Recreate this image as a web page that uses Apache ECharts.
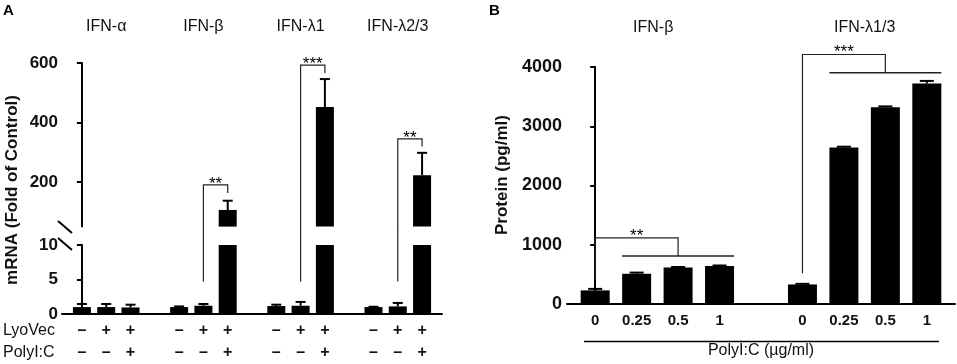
<!DOCTYPE html>
<html>
<head>
<meta charset="utf-8">
<script src="https://cdn.jsdelivr.net/npm/echarts@6/dist/echarts.min.js"></script>
<style>
  html, body { margin: 0; padding: 0; background: #fff; }
  #chart { width: 957px; height: 364px; }
</style>
</head>
<body>
<div id="chart"></div>
<script>
var myChart = echarts.init(document.getElementById('chart'))

// panel A: mRNA fold of control, 3 conditions per gene
var groupsA = ['IFN-α', 'IFN-β', 'IFN-λ1', 'IFN-λ2/3']
var lyoVec = ['–', '+', '+']
var polyIC = ['–', '–', '+']
var meanA = [[1.0, 1.0, 0.95], [1.0, 1.2, 106], [1.15, 1.2, 452], [1.0, 1.1, 223]]
var sdA = [[0.45, 0.45, 0.4], [0.1, 0.25, 31], [0.2, 0.55, 94], [0.05, 0.5, 75]]
var upperTicksA = [200, 400, 600]
// significance brackets A: [left bar, right bar], top, right leg end, left leg end
var sigPairsA = [[5, 6], [9, 10], [13, 14]]
var sigTopA = [190, 593, 345]
var sigRightA = [163, 566, 319]
var sigLeftA = [4.7, 4.7, 4.7]
var starsA = ['**', '***', '**']

// panel B: protein pg/ml vs PolyI:C dose
var groupsB = ['IFN-β', 'IFN-λ1/3']
var doses = ['0', '0.25', '0.5', '1']
var meanB = [[230, 510, 615, 640], [330, 2640, 3320, 3720]]
var sdB = [[25, 20, 10, 10], [10, 15, 15, 45]]
// brackets B: control bar, treated span, top, control leg end, treated line level
var sigCtrlB = [0, 5]
var sigSpanB = [[1, 3], [6, 8]]
var sigTopB = [1117, 4211]
var sigCtrlEndB = [421, 518]
var sigLineB = [810, 3903]
var starsB = ['**', '***']

var FONT = '"Liberation Sans", Arial, sans-serif'
var INK = '#111'

var barsA = [], errA = [], posA = []
meanA.forEach(function (g, gi) {
    g.forEach(function (v, i) {
        barsA.push([gi * 4 + i, v])
        errA.push([gi * 4 + i, v, sdA[gi][i]])
        posA.push(gi * 4 + i)
    })
})
var barsB = [], errB = [], posB = []
meanB.forEach(function (g, gi) {
    g.forEach(function (v, i) {
        barsB.push([gi * 5 + i, v])
        errB.push([gi * 5 + i, v, sdB[gi][i]])
        posB.push(gi * 5 + i)
    })
})

function errRender(lo, hi, capW) {
    return function (params, api) {
        var m = api.value(1), s = api.value(2)
        if (m < lo || m + s > hi) return
        var a = api.coord([api.value(0), m])
        var b = api.coord([api.value(0), m + s])
        var st = {stroke: '#000', lineWidth: 2}
        return {
            type: 'group',
            children: [
                {type: 'line', shape: {x1: a[0], y1: a[1], x2: b[0], y2: b[1]}, style: st},
                {type: 'line', shape: {x1: b[0] - capW / 2, y1: b[1], x2: b[0] + capW / 2, y2: b[1]}, style: st}
            ]
        }
    }
}

var lineSt = {stroke: '#222', lineWidth: 1.2, fill: null}
var starFont = '17px ' + FONT

var option = {
    backgroundColor: '#fff',
    animation: false,
    textStyle: {fontFamily: FONT},
    grid: [
        {left: 62, top: 63, width: 380, height: 163.6},
        {left: 62, top: 245, width: 380, height: 69},
        {left: 567, top: 67, width: 388, height: 247}
    ],
    xAxis: [
        {gridIndex: 0, type: 'value', min: -0.82, max: 14.82, show: false},
        {gridIndex: 0, type: 'value', position: 'top', min: -0.82, max: 14.82,
            axisLine: {show: false}, axisTick: {show: false}, splitLine: {show: false},
            axisLabel: {customValues: [1, 5, 9, 13], margin: 28, fontSize: 16, color: INK,
                formatter: function (v) { return groupsA[Math.round((v - 1) / 4)] }}},
        {gridIndex: 1, type: 'value', min: -0.82, max: 14.82,
            axisLine: {lineStyle: {color: '#000', width: 2}}, axisTick: {show: false}, splitLine: {show: false},
            axisLabel: {customValues: posA, margin: 6, lineHeight: 22, fontSize: 16, fontWeight: 'bold', color: INK,
                formatter: function (v) { var i = Math.round(v) % 4; return lyoVec[i] + '\n' + polyIC[i] }}},
        {gridIndex: 2, type: 'value', min: -0.68, max: 8.68,
            axisLine: {lineStyle: {color: '#000', width: 2}}, axisTick: {show: false}, splitLine: {show: false},
            name: 'PolyI:C (µg/ml)', nameLocation: 'middle', nameGap: 39,
            nameTextStyle: {fontSize: 16, color: INK},
            axisLabel: {customValues: posB, margin: 9, fontSize: 15, fontWeight: 'bold', color: INK,
                formatter: function (v) { return doses[Math.round(v) % 5] }}},
        {gridIndex: 2, type: 'value', position: 'top', min: -0.68, max: 8.68,
            axisLine: {show: false}, axisTick: {show: false}, splitLine: {show: false},
            axisLabel: {customValues: [1.4, 6.5], margin: 31, fontSize: 16, color: INK,
                formatter: function (v) { return v < 4 ? groupsB[0] : groupsB[1] }}}
    ],
    yAxis: [
        {gridIndex: 0, type: 'value', min: 50, max: 600, splitLine: {show: false},
            axisLine: {show: true, lineStyle: {color: '#000', width: 2}},
            axisTick: {show: true, customValues: upperTicksA, length: 5, lineStyle: {color: '#000', width: 2}},
            axisLabel: {customValues: upperTicksA, margin: 4, fontSize: 17, fontWeight: 'bold', color: INK}},
        {gridIndex: 1, type: 'value', min: 0, max: 10, interval: 5, splitLine: {show: false},
            axisLine: {show: true, lineStyle: {color: '#000', width: 2}},
            axisTick: {show: true, length: 5, lineStyle: {color: '#000', width: 2}},
            axisLabel: {margin: 4, fontSize: 17, fontWeight: 'bold', color: INK}},
        {gridIndex: 2, type: 'value', min: 0, max: 4000, interval: 1000, splitLine: {show: false},
            axisLine: {show: true, lineStyle: {color: '#000', width: 2}},
            axisTick: {show: true, length: 5, lineStyle: {color: '#000', width: 2}},
            axisLabel: {margin: 5, fontSize: 18, fontWeight: 'bold', color: INK,
                formatter: function (v) { return String(v) }}}
    ],
    series: [
        {type: 'bar', xAxisIndex: 0, yAxisIndex: 0, data: barsA, barWidth: 18, itemStyle: {color: '#000'}},
        {type: 'bar', xAxisIndex: 2, yAxisIndex: 1, data: barsA, barWidth: 18, itemStyle: {color: '#000'}},
        {type: 'bar', xAxisIndex: 3, yAxisIndex: 2, data: barsB, barWidth: 29, itemStyle: {color: '#000'}},
        {type: 'custom', xAxisIndex: 0, yAxisIndex: 0, data: errA, renderItem: errRender(50, 600, 10), z: 3},
        {type: 'custom', xAxisIndex: 2, yAxisIndex: 1, data: errA, renderItem: errRender(0, 10, 10), z: 3},
        {type: 'custom', xAxisIndex: 3, yAxisIndex: 2, data: errB, renderItem: errRender(0, 5000, 14), z: 3},
        {
            // brackets A, upper part
            type: 'custom', xAxisIndex: 0, yAxisIndex: 0, z: 4,
            data: sigPairsA.map(function (p, i) { return [p[0], p[1], sigTopA[i], sigRightA[i]] }),
            renderItem: function (params, api) {
                var p1 = api.coord([api.value(0), api.value(2)])
                var p2 = api.coord([api.value(1), api.value(2)])
                var pr = api.coord([api.value(1), api.value(3)])
                var bottom = params.coordSys.y + params.coordSys.height
                return {
                    type: 'group',
                    children: [
                        {type: 'polyline', shape: {points: [[p1[0], bottom], [p1[0], p1[1]], [p2[0], p2[1]], [p2[0], pr[1]]]}, style: lineSt},
                        {type: 'text', style: {text: starsA[params.dataIndex], x: (p1[0] + p2[0]) / 2, y: p1[1] - 1,
                            textAlign: 'center', textVerticalAlign: 'middle', font: starFont, fill: '#000'}}
                    ]
                }
            }
        },
        {
            // brackets A, left legs in lower part (crossing the axis break)
            type: 'custom', xAxisIndex: 2, yAxisIndex: 1, z: 4,
            data: sigPairsA.map(function (p, i) { return [p[0], sigLeftA[i]] }),
            renderItem: function (params, api) {
                var p = api.coord([api.value(0), api.value(1)])
                return {type: 'line', shape: {x1: p[0], y1: p[1], x2: p[0], y2: params.coordSys.y - 19}, style: lineSt}
            }
        },
        {
            // brackets B
            type: 'custom', xAxisIndex: 3, yAxisIndex: 2, z: 4,
            data: sigCtrlB.map(function (c, i) { return [c, sigSpanB[i][0], sigSpanB[i][1], sigTopB[i], sigCtrlEndB[i], sigLineB[i]] }),
            renderItem: function (params, api) {
                var mid = (api.value(1) + api.value(2)) / 2
                var c0 = api.coord([api.value(0), api.value(4)])
                var c1 = api.coord([api.value(0), api.value(3)])
                var m1 = api.coord([mid, api.value(3)])
                var m0 = api.coord([mid, api.value(5)])
                var half = 14.5
                var l0 = api.coord([api.value(1), api.value(5)])
                var l1 = api.coord([api.value(2), api.value(5)])
                return {
                    type: 'group',
                    children: [
                        {type: 'polyline', shape: {points: [[c0[0], c0[1]], [c1[0], c1[1]], [m1[0], m1[1]], [m0[0], m0[1]]]}, style: lineSt},
                        {type: 'line', shape: {x1: l0[0] - half, y1: l0[1], x2: l1[0] + half, y2: l1[1]}, style: {stroke: '#222', lineWidth: 1.5}},
                        {type: 'text', style: {text: starsB[params.dataIndex], x: (c1[0] + m1[0]) / 2, y: c1[1] - 2,
                            textAlign: 'center', textVerticalAlign: 'middle', font: starFont, fill: '#000'}}
                    ]
                }
            }
        }
    ],
    graphic: [
        {type: 'text', left: 3, top: 3, style: {text: 'A', font: 'bold 15px ' + FONT, fill: '#000'}},
        {type: 'text', left: 489, top: 3, style: {text: 'B', font: 'bold 15px ' + FONT, fill: '#000'}},
        {type: 'text', x: 12, y: 190, rotation: Math.PI / 2,
            style: {text: 'mRNA (Fold of Control)', font: 'bold 17px ' + FONT, fill: INK, textAlign: 'center', textVerticalAlign: 'middle'}},
        {type: 'text', x: 502, y: 175, rotation: Math.PI / 2,
            style: {text: 'Protein (pg/ml)', font: 'bold 17px ' + FONT, fill: INK, textAlign: 'center', textVerticalAlign: 'middle'}},
        {type: 'text', x: 3, y: 331, style: {text: 'LyoVec', font: '16px ' + FONT, fill: INK, textVerticalAlign: 'middle'}},
        {type: 'text', x: 3, y: 353, style: {text: 'PolyI:C', font: '16px ' + FONT, fill: INK, textVerticalAlign: 'middle'}},
        // axis break marks
        {type: 'line', shape: {x1: 58, y1: 221, x2: 72, y2: 233}, style: {stroke: '#000', lineWidth: 2}},
        {type: 'line', shape: {x1: 58, y1: 238, x2: 72, y2: 250}, style: {stroke: '#000', lineWidth: 2}},
        // dose underline in B
        {type: 'line', shape: {x1: 584, y1: 341.5, x2: 939, y2: 341.5}, style: {stroke: '#000', lineWidth: 1.5}}
    ]
}
myChart.setOption(option)
</script>
</body>
</html>
